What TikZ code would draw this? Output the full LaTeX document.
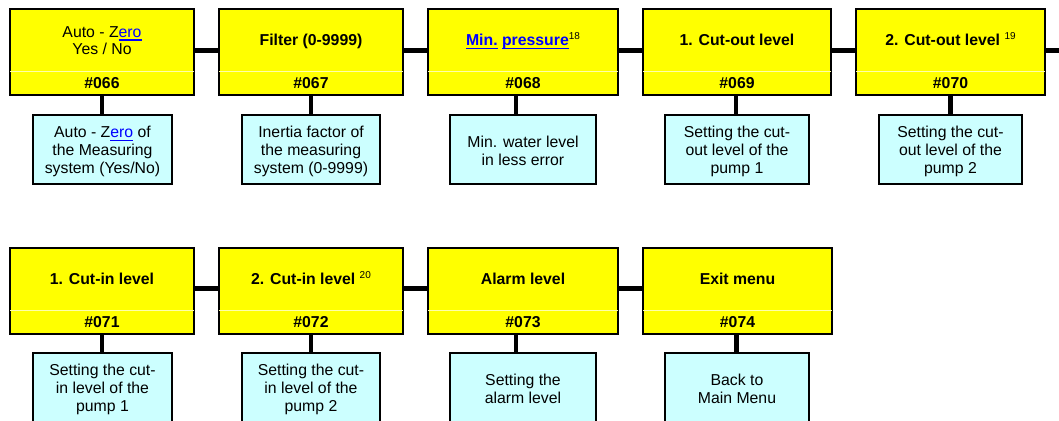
\documentclass[tikz,border=0pt]{standalone}
\usepackage{fontspec}
\setmainfont{Liberation Sans}
\definecolor{ylw}{RGB}{255,255,0}
\definecolor{ylwline}{RGB}{255,255,170}
\definecolor{cyanbox}{RGB}{204,255,255}
\definecolor{linkblue}{RGB}{0,0,255}
\newcommand\ulink[1]{{\color{linkblue}\setbox0\hbox{#1}\rlap{\vrule height -1.9pt depth 3.4pt width \wd0}\box0}}
\newcommand\supnum[1]{\raisebox{6pt}{\fontsize{10}{10}\selectfont\mdseries #1}}
\begin{document}
\begin{tikzpicture}[x=1pt,y=-1pt,
  every node/.style={font=\fontsize{15.8}{17.8}\selectfont},
  ybox/.style={draw=black,line width=1.6pt,fill=ylw,minimum height=86pt,inner sep=0pt},
  bbox/.style={draw=black,line width=1.6pt,fill=cyanbox,minimum height=69pt,inner sep=0pt},
  btxt/.style={inner sep=0pt,align=center},
  ttl/.style={anchor=base,font=\fontsize{15.8}{17.8}\selectfont\bfseries,inner sep=0pt},
  num/.style={anchor=base,font=\fontsize{15.8}{17.8}\selectfont\bfseries,inner sep=0pt},
  conn/.style={line width=4.6pt},
  divl/.style={draw=ylwline,line width=0.8pt}
]
\useasboundingbox (0,0) rectangle (1059,420);

% ---------- top row yellow boxes ----------
\node[ybox,minimum width=184pt] (y1) at (102,52) {};
\node[ybox,minimum width=184pt] (y2) at (311,52) {};
\node[ybox,minimum width=190pt] (y3) at (523,52) {};
\node[ybox,minimum width=188pt] (y4) at (737,52) {};
\node[ybox,minimum width=189pt] (y5) at (950.5,52) {};
\foreach \n in {y1,y2,y3,y4,y5}{
  \draw[divl] ([xshift=1pt,yshift=-19pt]\n.west) -- ([xshift=-1pt,yshift=-19pt]\n.east);
}
\node[anchor=base,inner sep=0pt,align=center] (t1) at (102,55) {Auto - Z\ulink{ero}\\Yes / No};
\node[ttl] (t2) at (311,45.7) {Filter (0-9999)};
\node[ttl] (t3) at (523,45.7) {\ulink{Min.} \ulink{pressure}\supnum{18}};
\node[ttl] (t4) at (737,45.7) {1. Cut-out level};
\node[ttl] (t5) at (950.5,45.7) {2. Cut-out level \supnum{19}};
\node[num] (n1) at (102,88.7) {\#066};
\node[num] (n2) at (311,88.7) {\#067};
\node[num] (n3) at (523,88.7) {\#068};
\node[num] (n4) at (737,88.7) {\#069};
\node[num] (n5) at (950.5,88.7) {\#070};

% ---------- top row blue boxes ----------
\node[bbox,minimum width=139pt] (b1) at (102.5,149.5) {};
\node[bbox,minimum width=138pt] (b2) at (311,149.5) {};
\node[bbox,minimum width=146pt] (b3) at (523,149.5) {};
\node[bbox,minimum width=144pt] (b4) at (737,149.5) {};
\node[bbox,minimum width=143pt] (b5) at (950.5,149.5) {};
\node[btxt] (d1) at ([yshift=-2pt]b1.center) {Auto - Z\ulink{ero} of\\the Measuring\\system (Yes/No)};
\node[btxt] (d2) at ([yshift=-2pt]b2.center) {Inertia factor of\\the measuring\\system (0-9999)};
\node[btxt] (d3) at ([yshift=-1pt]b3.center) {Min. water level\\in less error};
\node[btxt] (d4) at ([yshift=-2pt]b4.center) {Setting the cut-\\out level of the\\pump 1};
\node[btxt] (d5) at ([yshift=-2pt]b5.center) {Setting the cut-\\out level of the\\pump 2};

% ---------- bottom row yellow boxes ----------
\node[ybox,minimum width=184pt] (y6) at (102,291) {};
\node[ybox,minimum width=184pt] (y7) at (311,291) {};
\node[ybox,minimum width=190pt] (y8) at (523,291) {};
\node[ybox,minimum width=189pt] (y9) at (737.5,291) {};
\foreach \n in {y6,y7,y8,y9}{
  \draw[divl] ([xshift=1pt,yshift=-19pt]\n.west) -- ([xshift=-1pt,yshift=-19pt]\n.east);
}
\node[ttl] (t6) at (102,284.7) {1. Cut-in level};
\node[ttl] (t7) at (311,284.7) {2. Cut-in level \supnum{20}};
\node[ttl] (t8) at (523,284.7) {Alarm level};
\node[ttl] (t9) at (737.5,284.7) {Exit menu};
\node[num] (n6) at (102,327.7) {\#071};
\node[num] (n7) at (311,327.7) {\#072};
\node[num] (n8) at (523,327.7) {\#073};
\node[num] (n9) at (737.5,327.7) {\#074};

% ---------- bottom row blue boxes ----------
\node[bbox,minimum width=139pt] (b6) at (102.5,387.5) {};
\node[bbox,minimum width=138pt] (b7) at (311,387.5) {};
\node[bbox,minimum width=146pt] (b8) at (523,387.5) {};
\node[bbox,minimum width=144pt] (b9) at (737,387.5) {};
\node[btxt] (d6) at ([yshift=-2pt]b6.center) {Setting the cut-\\in level of the\\pump 1};
\node[btxt] (d7) at ([yshift=-2pt]b7.center) {Setting the cut-\\in level of the\\pump 2};
\node[btxt] (d8) at ([yshift=-1pt]b8.center) {Setting the\\alarm level};
\node[btxt] (d9) at ([yshift=-1pt]b9.center) {Back to\\Main Menu};

% ---------- connectors ----------
\coordinate (endc) at (1059,50.5);
\draw[conn] ([yshift=1.5pt]y1.east) -- ([yshift=1.5pt]y2.west);
\draw[conn] ([yshift=1.5pt]y2.east) -- ([yshift=1.5pt]y3.west);
\draw[conn] ([yshift=1.5pt]y3.east) -- ([yshift=1.5pt]y4.west);
\draw[conn] ([yshift=1.5pt]y4.east) -- ([yshift=1.5pt]y5.west);
\draw[conn] ([yshift=1.5pt]y5.east) -- (endc);
\draw[conn] ([yshift=2.5pt]y6.east) -- ([yshift=2.5pt]y7.west);
\draw[conn] ([yshift=2.5pt]y7.east) -- ([yshift=2.5pt]y8.west);
\draw[conn] ([yshift=2.5pt]y8.east) -- ([yshift=2.5pt]y9.west);

\coordinate (s1) at (y1.south);
\coordinate (s2) at (y2.south);
\coordinate (s3) at ([xshift=-7pt]y3.south);
\coordinate (s4) at ([xshift=-1pt]y4.south);
\coordinate (s5) at (y5.south);
\coordinate (s6) at (y6.south);
\coordinate (s7) at (y7.south);
\coordinate (s8) at ([xshift=-7pt]y8.south);
\coordinate (s9) at ([xshift=-1pt]y9.south);
\foreach \i in {1,...,9}{
  \draw[conn] (s\i) -- (b\i.north -| s\i);
}
\end{tikzpicture}
\end{document}
